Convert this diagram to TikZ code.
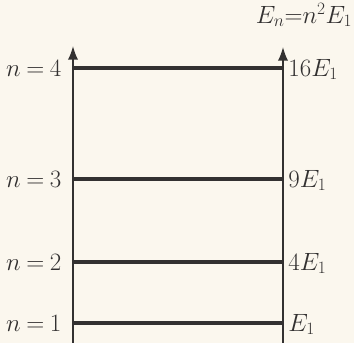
\documentclass[tikz,border=0pt]{standalone}
\usetikzlibrary{arrows.meta, positioning}
\definecolor{paper}{HTML}{FBF7EE}
\definecolor{ink}{HTML}{333131}

\begin{document}
\begin{tikzpicture}[x=0.035cm, y=-0.035cm, >={Latex[length=4.8mm, width=3.6mm]},
    line width=1.6pt, ink,
    level/.style={line width=3.2pt},
    lab/.style={inner sep=0pt, font=\fontsize{24}{28}\selectfont}]

        \useasboundingbox[fill=paper] (0,0) rectangle (354,343);

        \coordinate (wallLbot) at (73,343);
        \coordinate (wallLtop) at (73,46);
        \coordinate (wallRbot) at (283,343);
        \coordinate (wallRtop) at (283,47);

        \draw[->] (wallLbot) -- (wallLtop);
        \draw[->] (wallRbot) -- (wallRtop);

        \foreach \n/\y/\en in {1/323/E_1, 2/262/4E_1, 3/179/9E_1, 4/68/16E_1} {
            \coordinate (lvlL\n) at (73,\y);
            \coordinate (lvlR\n) at (283,\y);
            \draw[level] (lvlL\n) -- (lvlR\n);
            \node[lab, left=0.38cm of lvlL\n] (nlab\n) {$n\mkern4mu{=}\mkern4mu\n$};
            \node[lab, right=0.16cm of lvlR\n, yshift=-0.05cm] (elab\n) {$\en$};
        }

        \node[lab] (formula) at (304,15) {$E_n{=}n^2E_1$};

    \end{tikzpicture}
\end{document}
